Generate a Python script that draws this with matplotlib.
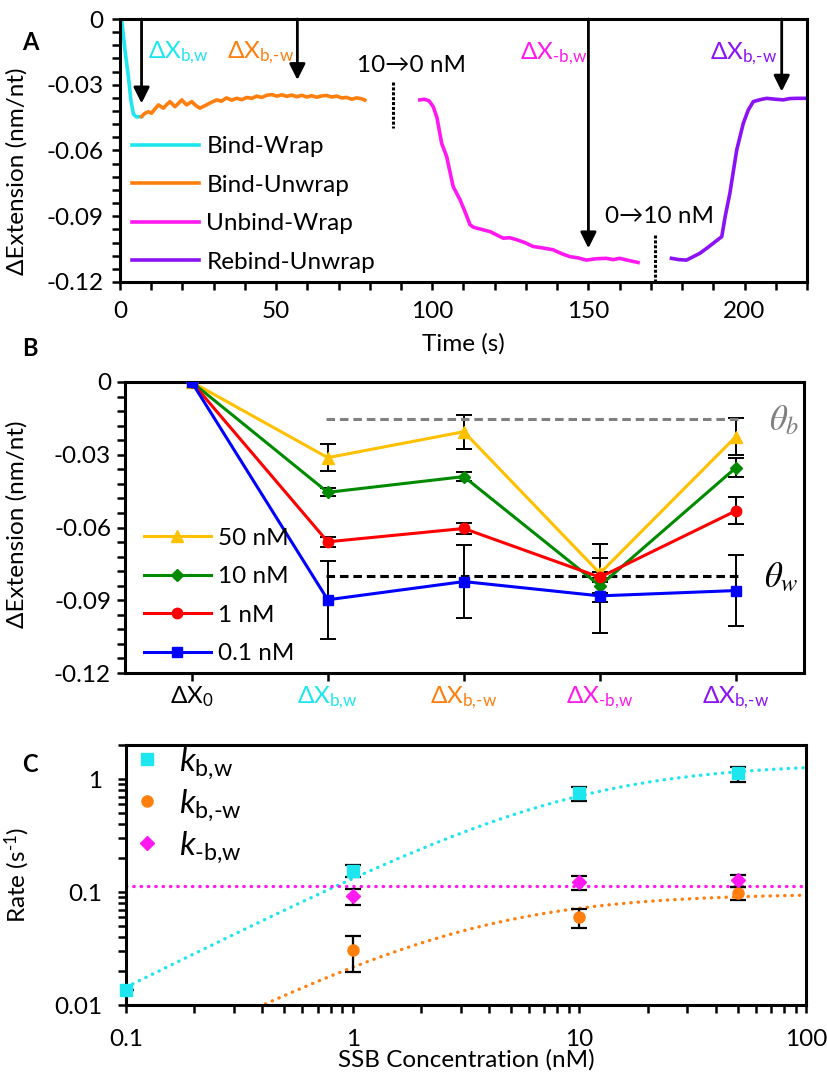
import numpy as np
import matplotlib
matplotlib.use('Agg')
import matplotlib.pyplot as plt
from matplotlib.ticker import MultipleLocator, FixedLocator, FixedFormatter, NullFormatter, LogLocator

plt.rcParams['font.family'] = ['Lato', 'DejaVu Sans']
plt.rcParams['mathtext.fontset'] = 'custom'
plt.rcParams['mathtext.rm'] = 'Lato'
plt.rcParams['mathtext.it'] = 'Lato:italic'
plt.rcParams['mathtext.bf'] = 'Lato:bold'
plt.rcParams['axes.unicode_minus'] = False

# ---------------- Panel A data ----------------
bw_t = [0.5, 1.6, 2.7, 3.5, 4.3, 5.3, 6.9]
bw_y = [0.0, -0.0143, -0.0265, -0.0372, -0.0434, -0.0447, -0.0445]

bmw_t = [6.9, 8.0, 9.1, 10.1, 11.2, 12.3, 13.9, 15.0, 16.0, 17.6, 18.7, 19.8, 21.3, 23.0,
         24.3, 25.6, 27.7, 29.3, 31.0, 32.5, 34.1, 35.7, 37.4, 39.0, 40.6, 42.2, 43.8, 45.4,
         47.0, 48.6, 50.2, 51.8, 53.4, 55.0, 56.6, 58.2, 59.8, 61.4, 63.0, 64.6, 66.2, 67.8,
         69.4, 71.0, 72.6, 74.2, 75.8, 77.4, 78.4]
bmw_y = [-0.0445, -0.0430, -0.0423, -0.0430, -0.0410, -0.0392, -0.0407, -0.0390, -0.0377,
         -0.0400, -0.0385, -0.0369, -0.0392, -0.0377, -0.0395, -0.0407, -0.0392, -0.0380,
         -0.0369, -0.0375, -0.0360, -0.0370, -0.0362, -0.0368, -0.0358, -0.0362, -0.0352,
         -0.0358, -0.0348, -0.0345, -0.0352, -0.0346, -0.0353, -0.0347, -0.0355, -0.0348,
         -0.0356, -0.0350, -0.0357, -0.0351, -0.0349, -0.0356, -0.0352, -0.0360, -0.0358,
         -0.0366, -0.0360, -0.0364, -0.0370]

mbw_t = [96.0, 97.5, 99.0, 100.3, 101.5, 103.0, 104.6, 105.7, 106.7, 107.8, 108.9, 110.5,
         112.1, 113.2, 114.2, 116.3, 118.5, 120.6, 122.7, 124.8, 127.0, 129.6, 132.3, 135.5,
         138.7, 141.3, 144.0, 146.7, 149.3, 152.5, 155.7, 158.0, 160.0, 163.0, 165.9]
mbw_y = [-0.0369, -0.0366, -0.0374, -0.0400, -0.0450, -0.0567, -0.0627, -0.0700, -0.0765,
         -0.0795, -0.0825, -0.0880, -0.0939, -0.0950, -0.0954, -0.0962, -0.0970, -0.0985,
         -0.1000, -0.0998, -0.1007, -0.1020, -0.1038, -0.1045, -0.1053, -0.1070, -0.1084,
         -0.1090, -0.1100, -0.1094, -0.1092, -0.1098, -0.1092, -0.1102, -0.1111]

rbw_t = [176.6, 179.0, 181.4, 183.5, 185.7, 188.0, 190.0, 192.7, 193.8, 195.3, 197.5, 199.6,
         201.2, 202.8, 205.0, 207.1, 209.8, 212.4, 214.5, 216.7, 219.9]
rbw_y = [-0.1092, -0.1098, -0.1100, -0.1085, -0.1069, -0.1045, -0.1023, -0.0993, -0.0901,
         -0.0795, -0.0597, -0.0476, -0.0415, -0.0377, -0.0368, -0.0362, -0.0366, -0.0369,
         -0.0363, -0.0362, -0.0362]

trace_labels = ['Bind-Wrap', 'Bind-Unwrap', 'Unbind-Wrap', 'Rebind-Unwrap']
trace_colors = ['#1EE6EE', '#FF7F0E', '#FF18F0', '#8A12F5']

# annotations of panel A
arrow_t = [6.9, 56.8, 150.0, 211.9]
arrow_tip = [-0.0385, -0.0278, -0.1046, -0.0331]
ann_labels = ['ΔX$_{\\text{b,w}}$', 'ΔX$_{\\text{b,-w}}$',
              'ΔX$_{\\text{-b,w}}$', 'ΔX$_{\\text{b,-w}}$']
ann_t = [9.0, 34.3, 128.1, 188.9]
ann_y = [-0.0155, -0.0155, -0.0160, -0.0160]
switch_labels = ['10→0 nM', '0→10 nM']
switch_text_t = [75.9, 155.3]
switch_text_y = [-0.0210, -0.0903]
switch_t = [87.3, 171.3]
switch_y0 = [-0.0286, -0.0985]
switch_y1 = [-0.0499, -0.1200]

# ---------------- Panel B data ----------------
b_cats = ['ΔX$_{\\text{0}}$', 'ΔX$_{\\text{b,w}}$', 'ΔX$_{\\text{b,-w}}$',
          'ΔX$_{\\text{-b,w}}$', 'ΔX$_{\\text{b,-w}}$']
b_cat_colors = ['black', '#1EE6EE', '#FF7F0E', '#FF18F0', '#8A12F5']
conc_labels = ['50 nM', '10 nM', '1 nM', '0.1 nM']
b_50 = [0, -0.0312, -0.0205, -0.0789, -0.0225]
b_10 = [0, -0.0455, -0.0390, -0.0840, -0.0353]
b_1 = [0, -0.0659, -0.0604, -0.0805, -0.0531]
b_01 = [0, -0.0898, -0.0823, -0.0882, -0.0860]
e_50 = [0, 0.0056, 0.0070, 0.0120, 0.0075]
e_10 = [0, 0.0017, 0.0017, 0.0030, 0.0040]
e_1 = [0, 0.0021, 0.0022, 0.0020, 0.0055]
e_01 = [0, 0.0160, 0.0149, 0.0155, 0.0147]
theta_b = -0.0152
theta_w = -0.0800

# ---------------- Panel C data ----------------
c_bw = [0.1, 1, 10, 50]
k_bw = [0.0137, 0.153, 0.746, 1.13]
k_bw_lo = [0.0137, 0.1345, 0.634, 0.95]
k_bw_hi = [0.0137, 0.174, 0.843, 1.29]
c_bmw = [1, 10, 50]
k_bmw = [0.0305, 0.060, 0.098]
k_bmw_lo = [0.0196, 0.0484, 0.085]
k_bmw_hi = [0.0406, 0.0703, 0.110]
c_mbw = [1, 10, 50]
k_mbw = [0.0914, 0.122, 0.1267]
k_mbw_lo = [0.0766, 0.105, 0.111]
k_mbw_hi = [0.1054, 0.138, 0.140]
# hyperbolic fit parameters (kmax, K)
fit_bw = (1.38, 9.5)
fit_bmw = (0.097, 3.5)
fit_mbw_const = 0.112

FS = 17.5
W, H = 828, 1084
fig = plt.figure(figsize=(W / 100, H / 100), dpi=100)


def fax(l, t, r, b):
    return fig.add_axes([l / W, 1 - b / H, (r - l) / W, (b - t) / H])


def style(ax, lw=2.2):
    for s in ax.spines.values():
        s.set_linewidth(lw)
    ax.tick_params(which='both', direction='out', width=1.8, length=6, labelsize=FS)


# ================= Panel A =================
axA = fax(120, 19, 807, 282)
style(axA)
tr = [(bw_t, bw_y), (bmw_t, bmw_y), (mbw_t, mbw_y), (rbw_t, rbw_y)]
for (t, y), lab, c in zip(tr, trace_labels, trace_colors):
    axA.plot(t, y, color=c, lw=2.6, label=lab, solid_joinstyle='round')
axA.set_xlim(0, 220)
axA.set_ylim(-0.12, 0)
axA.xaxis.set_major_locator(MultipleLocator(50))
axA.xaxis.set_minor_locator(MultipleLocator(10))
axA.set_yticks([-0.12, -0.09, -0.06, -0.03, 0])
axA.set_yticklabels(['-0.12', '-0.09', '-0.06', '-0.03', '0'])
axA.yaxis.set_minor_locator(MultipleLocator(0.006))
axA.tick_params(axis='x', pad=8)
axA.tick_params(axis='y', pad=6)
axA.set_xlabel('Time (s)', fontsize=FS)
axA.xaxis.set_label_coords(0.5, -0.195)
axA.set_ylabel('ΔExtension (nm/nt)', fontsize=FS)
axA.yaxis.set_label_coords(-0.135, 0.42)
for t, tip in zip(arrow_t, arrow_tip):
    axA.annotate('', xy=(t, tip), xytext=(t, 0),
                 arrowprops=dict(arrowstyle='-|>', lw=2.0, color='k', mutation_scale=24,
                                 shrinkA=0, shrinkB=0), annotation_clip=False)
for lab, t, y, c in zip(ann_labels, ann_t, ann_y, trace_colors):
    axA.text(t, y, lab, color=c, fontsize=FS, va='center', ha='left')
for lab, t, y in zip(switch_labels, switch_text_t, switch_text_y):
    axA.text(t, y, lab, color='k', fontsize=FS, va='center', ha='left')
for t, y0, y1 in zip(switch_t, switch_y0, switch_y1):
    axA.plot([t, t], [y0, y1], color='k', lw=2.2, ls=(0, (1, 0.6)))
axA.legend(loc='upper left', bbox_to_anchor=(0.018, 0.555), frameon=False, fontsize=FS,
           handlelength=2.75, handletextpad=0.3, labelspacing=0.72, borderpad=0,
           borderaxespad=0)

# ================= Panel B =================
axB = fax(125, 382, 804, 673)
style(axB)
xb = np.arange(len(b_cats))
b_series = [(b_50, e_50, '#FFC000', '^', 9), (b_10, e_10, '#008A00', 'D', 6.5),
            (b_1, e_1, '#FF0000', 'o', 7.5), (b_01, e_01, '#0000FF', 's', 7.5)]
for (v, e, c, m, ms), lab in zip(b_series, conc_labels):
    axB.errorbar(xb, v, yerr=e, fmt='none', ecolor='k', elinewidth=1.4, capsize=5.5,
                 capthick=1.4, zorder=1)
for (v, e, c, m, ms), lab in zip(b_series, conc_labels):
    axB.plot(xb, v, color=c, marker=m, ms=ms, lw=2.2, label=lab, zorder=3)
axB.plot([0.99, 4.04], [theta_b, theta_b], color='#808080', lw=2.2, dashes=(2.8, 1.6), zorder=2)
axB.plot([0.99, 4.04], [theta_w, theta_w], color='k', lw=2.2, dashes=(2.8, 1.6), zorder=2)
axB.text(4.35, theta_b - 0.0005, r'$\theta_b$', math_fontfamily='stix', fontsize=25,
         color='#808080', ha='center', va='center')
axB.text(4.33, theta_w - 0.0005, r'$\theta_w$', math_fontfamily='stix', fontsize=25,
         color='k', ha='center', va='center')
axB.set_xlim(-0.49, 4.5)
axB.set_ylim(-0.12, 0)
axB.set_xticks(xb)
axB.set_xticklabels(b_cats)
for lbl, c in zip(axB.get_xticklabels(), b_cat_colors):
    lbl.set_color(c)
axB.set_yticks([-0.12, -0.09, -0.06, -0.03, 0])
axB.set_yticklabels(['-0.12', '-0.09', '-0.06', '-0.03', '0'])
axB.yaxis.set_minor_locator(MultipleLocator(0.006))
axB.tick_params(axis='x', pad=2)
axB.tick_params(axis='y', pad=4)
axB.set_ylabel('ΔExtension (nm/nt)', fontsize=FS)
axB.yaxis.set_label_coords(-0.144, 0.51)
axB.legend(loc='upper left', bbox_to_anchor=(0.028, 0.50), frameon=False, fontsize=FS,
           handlelength=2.75, handletextpad=0.28, labelspacing=0.72, borderpad=0,
           borderaxespad=0)

# ================= Panel C =================
axC = fax(126, 745, 806, 1005)
style(axC)
axC.set_xscale('log')
axC.set_yscale('log')
cc = np.logspace(-1, 2, 300)
dot = dict(lw=2.4, ls=(0, (0.1, 2.1)), dash_capstyle='round')
axC.plot(cc, fit_bw[0] * cc / (fit_bw[1] + cc), color='#1EE6EE', **dot, zorder=1)
axC.plot(cc, fit_bmw[0] * cc / (fit_bmw[1] + cc), color='#FF7F0E', **dot, zorder=1)
axC.plot(cc, np.full_like(cc, fit_mbw_const), color='#FF18F0', **dot, zorder=1)
c_series = [(c_bw, k_bw, k_bw_lo, k_bw_hi, '#1EE6EE', 's', 8.5, r'$k_{\text{b,w}}$'),
            (c_bmw, k_bmw, k_bmw_lo, k_bmw_hi, '#FF7F0E', 'o', 8, r'$k_{\text{b,-w}}$'),
            (c_mbw, k_mbw, k_mbw_lo, k_mbw_hi, '#FF18F0', 'D', 7, r'$k_{\text{-b,w}}$')]
for cx, v, lo, hi, col, m, ms, lab in c_series:
    v = np.array(v)
    yerr = [v - np.array(lo), np.array(hi) - v]
    axC.errorbar(cx, v, yerr=yerr, fmt='none', ecolor='k', elinewidth=1.6, capsize=6,
                 capthick=1.6, zorder=2)
for cx, v, lo, hi, col, m, ms, lab in c_series:
    axC.plot(cx, v, ls='none', marker=m, ms=ms, color=col, label=lab, zorder=3, clip_on=False)
axC.set_xlim(0.1, 100)
axC.set_ylim(0.01, 2)
axC.xaxis.set_major_locator(FixedLocator([0.1, 1, 10, 100]))
axC.xaxis.set_major_formatter(FixedFormatter(['0.1', '1', '10', '100']))
axC.xaxis.set_minor_locator(LogLocator(base=10, subs=np.arange(2, 10)))
axC.xaxis.set_minor_formatter(NullFormatter())
axC.yaxis.set_major_locator(FixedLocator([0.01, 0.1, 1]))
axC.yaxis.set_major_formatter(FixedFormatter(['0.01', '0.1', '1']))
axC.yaxis.set_minor_locator(LogLocator(base=10, subs=np.arange(2, 10)))
axC.yaxis.set_minor_formatter(NullFormatter())
axC.tick_params(axis='x', pad=11)
axC.tick_params(axis='y', pad=11)
axC.set_xlabel('SSB Concentration (nM)', fontsize=FS)
axC.xaxis.set_label_coords(0.5, -0.17)
axC.set_ylabel('Rate (s$^{\\text{-1}}$)', fontsize=FS)
axC.yaxis.set_label_coords(-0.138, 0.5)
axC.legend(loc='upper left', bbox_to_anchor=(0.012, 1.0), frameon=False, fontsize=24,
           handlelength=0.8, handletextpad=0.55, labelspacing=0.18, borderpad=0,
           borderaxespad=0)

# panel letters
for lab, y in zip(['A', 'B', 'C'], [42, 348, 765]):
    fig.text(22 / W, 1 - y / H, lab, fontsize=17, fontweight='bold', ha='left', va='center')

fig.savefig('out.png', dpi=100)
